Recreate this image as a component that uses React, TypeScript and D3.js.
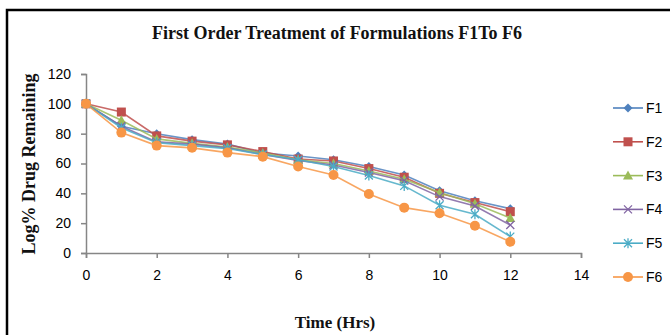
import React, { useRef, useEffect } from 'react'
import * as d3 from 'd3'

const times = [0, 1, 2, 3, 4, 5, 6, 7, 8, 9, 10, 11, 12]
const seriesNames = ['F1', 'F2', 'F3', 'F4', 'F5', 'F6']
const f1 = [100, 85, 80, 76, 73, 67, 65, 62.5, 58, 52.3, 41.8, 35, 29.7]
const f2 = [100, 94.5, 78.5, 75, 72.5, 68, 63, 61.7, 56.6, 50.8, 40, 33.8, 27.7]
const f3 = [100, 89, 76.5, 73.5, 71, 67, 62.5, 60, 55, 49.5, 40.5, 33, 23.5]
const f4 = [100, 85, 74.5, 73, 70.5, 66, 62, 59, 54, 48.5, 37.8, 31.5, 18.8]
const f5 = [100, 84, 74, 72, 70, 66, 62.5, 58, 52, 45, 32, 26, 11]
const f6 = [100, 80.7, 72, 70.5, 67.3, 64.6, 58, 52.3, 39.6, 30.4, 26.6, 18.3, 7.6]
const seriesValues = [f1, f2, f3, f4, f5, f6]
const colors = ['#4F81BD', '#C0504D', '#9BBB59', '#8064A2', '#4BACC6', '#F79646']
const markers = ['diamond', 'square', 'triangle', 'x', 'star', 'circle']
const xTicks = [0, 2, 4, 6, 8, 10, 12, 14]
const yTicks = [0, 20, 40, 60, 80, 100, 120]

export default function App() {
  const svgRef = useRef<SVGSVGElement>(null)
  const width = 670
  const height = 335

  useEffect(() => {
    if (!svgRef.current) return
    const svg = d3.select(svgRef.current)
    svg.selectAll('*').remove()

    // outer frame (top and left edges only visible)
    svg.append('path')
      .attr('d', 'M7,335 L7,10 L670,10')
      .attr('fill', 'none')
      .attr('stroke', '#000')
      .attr('stroke-width', 2.5)

    const serif = '"Liberation Serif", "Times New Roman", serif'

    svg.append('text')
      .attr('x', 337)
      .attr('y', 39)
      .attr('text-anchor', 'middle')
      .attr('font-family', serif)
      .attr('font-weight', 'bold')
      .attr('font-size', 18)
      .attr('fill', '#111')
      .text('First Order Treatment of Formulations F1To F6')

    const x = d3.scaleLinear().domain([0, 14]).range([86, 581])
    const y = d3.scaleLinear().domain([0, 120]).range([253, 74])
    const axisColor = '#868686'
    const tickFont = '"Liberation Sans Narrow", "Arial Narrow", "Liberation Sans", sans-serif'

    // y axis
    const yAxis = svg.append('g')
      .attr('transform', `translate(${x(0)},0)`)
      .call(d3.axisLeft(y).tickValues(yTicks).tickSize(5).tickPadding(10))
    yAxis.select('.domain').attr('stroke', axisColor).attr('stroke-width', 1.5)
    yAxis.selectAll('.tick line').attr('stroke', axisColor).attr('stroke-width', 1.5)
    yAxis.selectAll('.tick text')
      .attr('font-family', tickFont)
      .attr('font-size', 14)
      .attr('fill', '#000')

    // x axis
    const xAxis = svg.append('g')
      .attr('transform', `translate(0,${y(0)})`)
      .call(d3.axisBottom(x).tickValues(xTicks).tickSize(5).tickPadding(12))
    xAxis.select('.domain').attr('stroke', axisColor).attr('stroke-width', 1.5)
    xAxis.selectAll('.tick line').attr('stroke', axisColor).attr('stroke-width', 1.5)
    xAxis.selectAll('.tick text')
      .attr('font-family', tickFont)
      .attr('font-size', 14)
      .attr('fill', '#000')

    svg.append('text')
      .attr('x', 335)
      .attr('y', 328)
      .attr('text-anchor', 'middle')
      .attr('font-family', serif)
      .attr('font-weight', 'bold')
      .attr('font-size', 17)
      .attr('fill', '#111')
      .text('Time (Hrs)')

    svg.append('text')
      .attr('transform', `translate(35,${164}) rotate(-90)`)
      .attr('text-anchor', 'middle')
      .attr('font-family', serif)
      .attr('font-weight', 'bold')
      .attr('font-size', 18)
      .attr('fill', '#111')
      .text('Log% Drug Remaining')

    const drawMarker = (g: any, kind: string, cx: number, cy: number, color: string) => {
      if (kind === 'diamond') {
        g.append('path').attr('d', `M${cx},${cy - 4.5} L${cx + 4.5},${cy} L${cx},${cy + 4.5} L${cx - 4.5},${cy} Z`).attr('fill', color)
      } else if (kind === 'square') {
        g.append('rect').attr('x', cx - 4.5).attr('y', cy - 4.5).attr('width', 9).attr('height', 9).attr('fill', color)
      } else if (kind === 'triangle') {
        g.append('path').attr('d', `M${cx},${cy - 5} L${cx + 5},${cy + 4} L${cx - 5},${cy + 4} Z`).attr('fill', color)
      } else if (kind === 'x') {
        g.append('path').attr('d', `M${cx - 4},${cy - 4} L${cx + 4},${cy + 4} M${cx - 4},${cy + 4} L${cx + 4},${cy - 4}`)
          .attr('stroke', color).attr('stroke-width', 1.3)
      } else if (kind === 'star') {
        g.append('path').attr('d', `M${cx - 4},${cy - 4} L${cx + 4},${cy + 4} M${cx - 4},${cy + 4} L${cx + 4},${cy - 4} M${cx},${cy - 5} L${cx},${cy + 5}`)
          .attr('stroke', color).attr('stroke-width', 1.3)
      } else {
        g.append('circle').attr('cx', cx).attr('cy', cy).attr('r', 5).attr('fill', color)
      }
    }

    const line = d3.line<number>()
      .x((_, i) => x(times[i]))
      .y(d => y(d))

    seriesValues.forEach((vals, si) => {
      const g = svg.append('g')
      g.append('path')
        .attr('d', line(vals))
        .attr('fill', 'none')
        .attr('stroke', colors[si])
        .attr('stroke-width', 1.6)
        .attr('stroke-opacity', 0.85)
      vals.forEach((v, i) => drawMarker(g, markers[si], x(times[i]), y(v), colors[si]))
    })

    // legend
    const legendY = d3.scalePoint<string>().domain(seriesNames).range([108, 277])
    seriesNames.forEach((name, si) => {
      const g = svg.append('g')
      const ly = legendY(name) as number
      g.append('line')
        .attr('x1', 613).attr('x2', 643)
        .attr('y1', ly).attr('y2', ly)
        .attr('stroke', colors[si])
        .attr('stroke-width', 1.6)
      drawMarker(g, markers[si], 628, ly, colors[si])
      g.append('text')
        .attr('x', 646)
        .attr('y', ly + 5)
        .attr('font-family', tickFont)
        .attr('font-size', 14)
        .attr('fill', '#000')
        .text(name)
    })
  }, [])

  return (
    <svg
      ref={svgRef}
      width={width}
      height={height}
      style={{ position: 'absolute', left: 0, top: 0, background: '#fff' }}
    />
  )
}
